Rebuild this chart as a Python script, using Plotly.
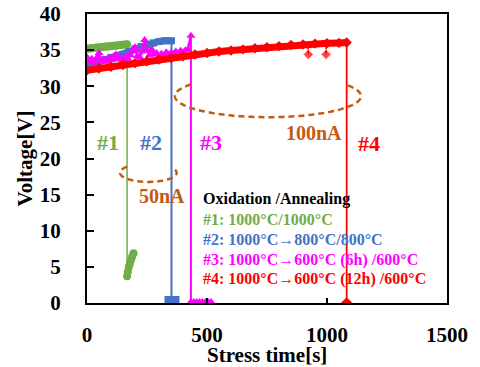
import numpy as np
import plotly.graph_objects as go

FONT = "Liberation Serif, Times New Roman, serif"
GREEN = "#70AD47"
BLUE = "#4472C4"
MAGENTA = "#FF00FF"
RED = "#FF0000"
BROWN = "#C55A11"

# ---- data ----
# #1 : 1000C/1000C
t1 = [0, 20, 40, 60, 80, 100, 120, 140, 167]
v1 = [35.2, 35.25, 35.35, 35.4, 35.5, 35.55, 35.6, 35.7, 35.8]
t1_low = [167, 170, 174, 178, 183, 188, 194]
v1_low = [3.7, 4.3, 5.0, 5.4, 5.9, 6.4, 6.9]

# #2 : 1000C->800C/800C
t2 = [0, 25, 50, 75, 100, 125, 150, 175, 200, 225, 250, 275, 300, 325, 352]
v2 = [32.8, 33.1, 33.4, 33.7, 34.0, 34.2, 34.4, 34.8, 35.2, 35.5, 35.8, 36.0, 36.2, 36.3, 36.3]
t2_low = [352, 356]
v2_low = [0, 0]

# #3 : 1000C->600C (6h)/600C
t3 = [0, 10, 20, 30, 40, 50, 60, 70, 80, 90, 100, 110, 120, 130, 140, 150, 160,
      170, 180, 190, 200, 210, 220, 230, 240, 250, 260, 270, 280, 290, 300, 310,
      320, 330, 340, 350, 360, 370, 380, 390, 400, 410, 420, 433]
v3 = [34.0, 33.4, 33.8, 33.3, 33.9, 34.6, 33.5, 33.7, 33.4, 33.9, 33.6, 34.0,
      34.4, 33.7, 33.9, 33.6, 34.1, 33.8, 34.3, 34.9, 35.4, 34.2, 34.0, 34.8,
      36.4, 35.0, 34.3, 35.1, 34.4, 34.6, 34.2, 34.5, 34.3, 34.7, 34.4, 34.6,
      34.5, 34.8, 34.6, 34.9, 34.7, 35.0, 35.1, 37.0]
t3_low = [433, 445, 457, 469, 481, 493, 505, 517]
v3_low = [0, 0, 0, 0, 0, 0, 0, 0]

# #4 : 1000C->600C (12h)/600C
t4 = [0, 50, 100, 150, 200, 250, 300, 350, 400, 450, 500, 550, 600, 650, 700,
      750, 800, 850, 900, 950, 1000, 1050, 1082]
v4 = [32.2, 32.45, 32.7, 32.95, 33.2, 33.45, 33.7, 33.9, 34.15, 34.4, 34.6,
      34.8, 34.95, 35.1, 35.25, 35.4, 35.55, 35.7, 35.8, 35.9, 35.95, 36.0, 36.05]
t4_dips = [922, 996]
v4_dips = [34.4, 34.4]
v4_dip_base = [35.85, 35.95]
t4_low = [1082]
v4_low = [0]

x_ticks = [0, 500, 1000, 1500]
y_ticks = [0, 5, 10, 15, 20, 25, 30, 35, 40]

fig = go.Figure()

def band(t, v, color, symbol, lw, ms):
    fig.add_trace(go.Scatter(x=t, y=v, mode="lines+markers",
                             line=dict(color=color, width=lw),
                             marker=dict(color=color, symbol=symbol, size=ms),
                             showlegend=False, hoverinfo="skip"))

def drop(t, v, tz, vz, color, symbol, ms, lw=1.5):
    fig.add_trace(go.Scatter(x=[t[-1], tz[0]], y=[v[-1], vz[0]], mode="lines",
                             line=dict(color=color, width=lw),
                             showlegend=False, hoverinfo="skip"))
    fig.add_trace(go.Scatter(x=tz, y=vz, mode="markers",
                             marker=dict(color=color, symbol=symbol, size=ms),
                             showlegend=False, hoverinfo="skip"))

# #1
band(t1, v1, GREEN, "circle", 8, 8)
drop(t1, v1, t1_low, v1_low, GREEN, "circle", 8)
fig.add_trace(go.Scatter(x=t1_low, y=v1_low, mode="lines", line=dict(color=GREEN, width=6),
                         showlegend=False, hoverinfo="skip"))
# #2
band(t2, v2, BLUE, "square", 7, 7)
drop(t2, v2, t2_low, v2_low, BLUE, "square", 14, lw=2)
# #3
band(t3, v3, MAGENTA, "triangle-up", 2.5, 8)
drop(t3, v3, t3_low, v3_low, MAGENTA, "triangle-up", 10, lw=2)
# #4
band(t4, v4, RED, "diamond", 7, 8)
for td, vd, vb in zip(t4_dips, v4_dips, v4_dip_base):
    fig.add_trace(go.Scatter(x=[td, td], y=[vb, vd], mode="lines+markers",
                             line=dict(color=RED, width=1.5),
                             marker=dict(color=RED, symbol="diamond", size=[0, 8]),
                             showlegend=False, hoverinfo="skip"))
drop(t4, v4, t4_low, v4_low, RED, "diamond", 9, lw=1.8)

# ---- dashed ellipses with the top part between the drop lines hidden ----
def partial_ellipse(cx, cy, a, b, gap_x0, gap_x1):
    th = np.linspace(0, 2 * np.pi, 361)
    xs = cx + a * np.cos(th)
    ys = cy + b * np.sin(th)
    keep = ~((ys > cy) & (xs > gap_x0) & (xs < gap_x1))
    segs, cur = [], []
    for x, y, k in zip(xs, ys, keep):
        if k:
            cur.append((x, y))
        elif cur:
            segs.append(cur); cur = []
    if cur:
        segs.append(cur)
    if len(segs) > 1 and keep[0] and keep[-1]:
        segs[0] = segs[-1] + segs[0]
        segs = segs[:-1]
    path = ""
    for s in segs:
        path += "M " + " L ".join(f"{x:.2f},{y:.3f}" for x, y in s) + " "
    return path

for cx, cy, a, b, g0, g1 in [(754, 28.63, 387.5, 2.91, 433, 1082),
                             (255.6, 18.03, 118, 1.27, 167, 352)]:
    fig.add_shape(type="path", path=partial_ellipse(cx, cy, a, b, g0, g1),
                  xref="x", yref="y", line=dict(color=BROWN, width=2.5, dash="6px,4px"))

# ---- labels ----
def label(x, y, text, color, size, xanchor="center"):
    fig.add_annotation(x=x, y=y, text=text, showarrow=False, xanchor=xanchor, yanchor="middle",
                       font=dict(family=FONT, size=size, color=color, weight="bold"))

label(88, 22.2, "#1", GREEN, 22)
label(266, 22.2, "#2", BLUE, 22)
label(517, 22.2, "#3", MAGENTA, 22)
label(1174, 22.1, "#4", RED, 22)
label(945, 23.5, "100nA", BROWN, 20)
label(312, 14.8, "50nA", BROWN, 20)

legend_lines = ["Oxidation /Annealing",
                "#1: 1000°C/1000°C",
                "#2: 1000°C→800°C/800°C",
                "#3: 1000°C→600°C (6h) /600°C",
                "#4: 1000°C→600°C (12h) /600°C"]
legend_colors = ["#000000", GREEN, BLUE, MAGENTA, RED]
legend_y = [14.36, 11.55, 8.78, 6.0, 3.32]
for txt, col, yy in zip(legend_lines, legend_colors, legend_y):
    label(474, yy, txt, col, 16, xanchor="left")

fig.add_annotation(xref="paper", yref="paper", x=-0.175, y=0.5, text="Voltage[V]",
                   textangle=-90, showarrow=False, xanchor="center", yanchor="middle",
                   font=dict(family=FONT, size=21, color="black", weight="bold"))
fig.add_annotation(xref="paper", yref="paper", x=0.5, y=-0.181, text="Stress time[s]",
                   showarrow=False, xanchor="center", yanchor="middle",
                   font=dict(family=FONT, size=21, color="black", weight="bold"))

fig.update_xaxes(range=[0, 1500], tickvals=x_ticks, ticks="inside", ticklen=5, tickwidth=1.5,
                 tickcolor="black", showline=True, linecolor="black", linewidth=2, mirror=True,
                 showgrid=False, zeroline=False, ticklabelstandoff=12, automargin=False,
                 tickfont=dict(family=FONT, size=21, color="black", weight="bold"))
fig.update_yaxes(range=[0, 40], tickvals=y_ticks, ticks="inside", ticklen=7, tickwidth=1.5,
                 tickcolor="black", showline=True, linecolor="black", linewidth=2, mirror=True,
                 showgrid=False, zeroline=False, ticklabelstandoff=20, automargin=False,
                 tickfont=dict(family=FONT, size=21, color="black", weight="bold"))

fig.update_layout(width=480, height=367, margin=dict(l=87, r=33, t=14, b=64),
                  paper_bgcolor="white", plot_bgcolor="white", showlegend=False)

fig.write_html("out.html", config={"displayModeBar": False},
               post_script="document.body.style.margin='0px';document.body.style.overflow='hidden';")
